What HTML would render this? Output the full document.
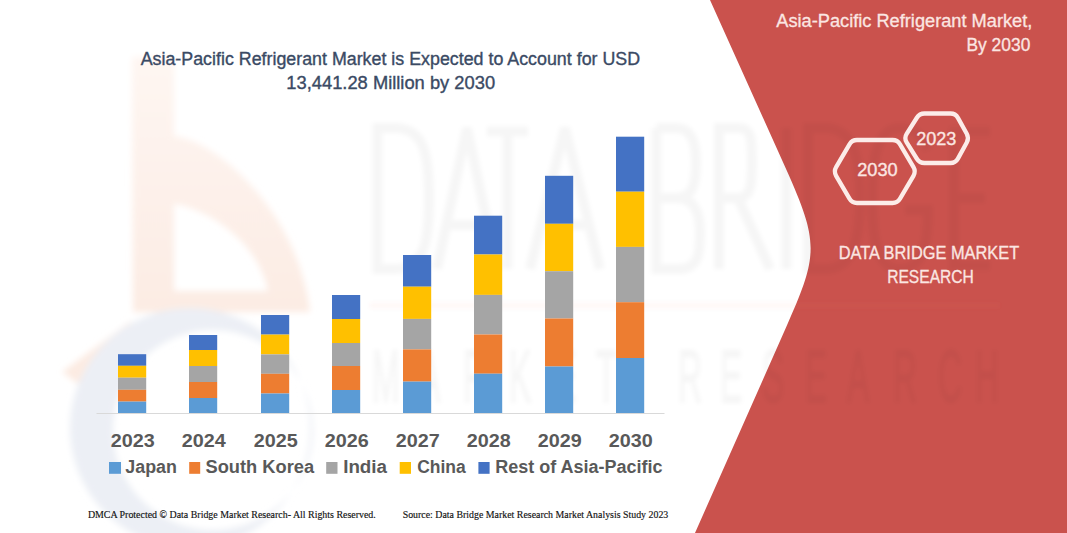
<!DOCTYPE html>
<html><head><meta charset="utf-8">
<style>
html,body{margin:0;padding:0;background:#fff;}
body{width:1067px;height:533px;overflow:hidden;position:relative;}
svg{position:absolute;left:0;top:0;}
text{font-family:"Liberation Sans",sans-serif;}
</style></head><body>
<svg width="1067" height="533" viewBox="0 0 1067 533">
<defs><linearGradient id="pg" x1="0" y1="57" x2="0" y2="330" gradientUnits="userSpaceOnUse"><stop offset="0" stop-color="#FEF6F2"/><stop offset="1" stop-color="#FCEBE2"/></linearGradient><filter id="bl" x="-10%" y="-10%" width="120%" height="120%"><feGaussianBlur stdDeviation="3"/></filter><filter id="bl2" x="-10%" y="-10%" width="120%" height="120%"><feGaussianBlur stdDeviation="2"/></filter></defs>
<rect width="1067" height="533" fill="#fff"/>
<g filter="url(#bl)">
<!-- watermark logo -->
<g fill="url(#pg)">
<path d="M132,57 H174 V136 C215,140 298,210 310,312 H133 Z M174,204 V291 H268 C258,240 205,208 174,204 Z" fill-rule="evenodd"/>
<path d="M62,372 L130,322 L150,338 L80,385 Z"/>
</g>
<path d="M190,308 A120,120 0 1,0 190.1,308 Z M213,330 A100,100 0 1,1 212.9,330 Z" fill="#ECEFF5" fill-rule="evenodd"/>
</g>
<!-- red panel -->
<path d="M710,0 L786.5,170 C818.5,241.4 818.6,254.5 787.1,325 L695,533 L1067,533 L1067,0 Z" fill="#CA524D"/>
<!-- watermark text -->
<g filter="url(#bl2)">
<g fill="none" stroke="rgba(0,0,0,0.035)" stroke-width="10">
<path d="M377.5,128 V269 H395 C425,269 429,240 429,198.5 C429,157 425,128 395,128 Z"/>
<path d="M437,269 L467,128 L497,269 M447,225 H487"/>
<path d="M487,131.5 H528 M507.5,128 V269"/>
<path d="M530,269 L565,128 L600,269 M540,225 H590"/>
<path d="M656.5,128 V269 H678 C698,269 700,255 700,233 C700,212 694,198 676,198 H656.5 M676,198 C692,198 696,185 696,163 C696,140 690,128 676,128 H656.5"/>
<path d="M719,269 V128 H738 C752,128 752,140 752,163 C752,186 750,198 738,198 H719 M738,198 L770,269"/>
<path d="M786.5,128 V269"/>
<path d="M808,128 V269 H825 C853,269 860,240 860,198 C860,157 853,128 825,128 Z"/>
<path d="M928,150 C922,133 912,128 900,128 C880,128 872,150 872,198 C872,248 880,269 900,269 C918,269 928,255 928,210 H905"/>
<path d="M990,131.5 H954 V265.5 H990 M954,198 H985"/>
</g>
<line x1="370" y1="305.5" x2="1000" y2="305.5" stroke="rgba(240,120,80,0.07)" stroke-width="4"/>
<text x="826.7 928.9 1028.9 1131.1 1231.1 1324.4 1506.7 1600.0 1693.3 1788.9 1882.2 1984.4 2084.4 2166.7" y="402" font-size="74" fill="rgba(0,0,0,0.032)" stroke="rgba(0,0,0,0.032)" stroke-width="2" transform="scale(0.45,1)" style="font-family:'Liberation Sans',sans-serif">MARKETRESEARCH</text>
</g>
<!-- axis -->
<line x1="96.5" y1="413.5" x2="664.5" y2="413.5" stroke="#D9D9D9" stroke-width="1"/>
<rect x="118" y="354.2" width="28.2" height="11.60" fill="#4472C4"/>
<rect x="118" y="365.8" width="28.2" height="11.90" fill="#FFC000"/>
<rect x="118" y="377.7" width="28.2" height="12.10" fill="#A5A5A5"/>
<rect x="118" y="389.8" width="28.2" height="11.80" fill="#ED7D31"/>
<rect x="118" y="401.6" width="28.2" height="11.40" fill="#5B9BD5"/>
<rect x="189" y="335" width="28.2" height="15.00" fill="#4472C4"/>
<rect x="189" y="350" width="28.2" height="16.00" fill="#FFC000"/>
<rect x="189" y="366" width="28.2" height="16.00" fill="#A5A5A5"/>
<rect x="189" y="382" width="28.2" height="16.00" fill="#ED7D31"/>
<rect x="189" y="398" width="28.2" height="15.00" fill="#5B9BD5"/>
<rect x="261" y="315" width="28.2" height="19.60" fill="#4472C4"/>
<rect x="261" y="334.6" width="28.2" height="19.80" fill="#FFC000"/>
<rect x="261" y="354.4" width="28.2" height="19.40" fill="#A5A5A5"/>
<rect x="261" y="373.8" width="28.2" height="19.70" fill="#ED7D31"/>
<rect x="261" y="393.5" width="28.2" height="19.50" fill="#5B9BD5"/>
<rect x="332" y="295" width="28.2" height="24.00" fill="#4472C4"/>
<rect x="332" y="319" width="28.2" height="24.00" fill="#FFC000"/>
<rect x="332" y="343" width="28.2" height="23.00" fill="#A5A5A5"/>
<rect x="332" y="366" width="28.2" height="24.00" fill="#ED7D31"/>
<rect x="332" y="390" width="28.2" height="23.00" fill="#5B9BD5"/>
<rect x="403" y="255" width="28.2" height="31.70" fill="#4472C4"/>
<rect x="403" y="286.7" width="28.2" height="32.20" fill="#FFC000"/>
<rect x="403" y="318.9" width="28.2" height="30.50" fill="#A5A5A5"/>
<rect x="403" y="349.4" width="28.2" height="32.20" fill="#ED7D31"/>
<rect x="403" y="381.6" width="28.2" height="31.40" fill="#5B9BD5"/>
<rect x="474" y="215.7" width="28.2" height="38.80" fill="#4472C4"/>
<rect x="474" y="254.5" width="28.2" height="40.40" fill="#FFC000"/>
<rect x="474" y="294.9" width="28.2" height="39.60" fill="#A5A5A5"/>
<rect x="474" y="334.5" width="28.2" height="39.20" fill="#ED7D31"/>
<rect x="474" y="373.7" width="28.2" height="39.30" fill="#5B9BD5"/>
<rect x="545" y="175.8" width="28.2" height="48.00" fill="#4472C4"/>
<rect x="545" y="223.8" width="28.2" height="47.40" fill="#FFC000"/>
<rect x="545" y="271.2" width="28.2" height="47.30" fill="#A5A5A5"/>
<rect x="545" y="318.5" width="28.2" height="48.00" fill="#ED7D31"/>
<rect x="545" y="366.5" width="28.2" height="46.50" fill="#5B9BD5"/>
<rect x="616" y="136.7" width="28.2" height="55.00" fill="#4472C4"/>
<rect x="616" y="191.7" width="28.2" height="55.20" fill="#FFC000"/>
<rect x="616" y="246.9" width="28.2" height="55.30" fill="#A5A5A5"/>
<rect x="616" y="302.2" width="28.2" height="55.80" fill="#ED7D31"/>
<rect x="616" y="358" width="28.2" height="55.00" fill="#5B9BD5"/>
<!-- title -->
<g fill="#3A4A64" font-size="17.5" stroke="#3A4A64" stroke-width="0.35">
<text x="140.7" y="64.7" textLength="499.4" lengthAdjust="spacingAndGlyphs">Asia-Pacific Refrigerant Market is Expected to Account for USD</text>
<text x="286.3" y="88.6" textLength="208.8" lengthAdjust="spacingAndGlyphs">13,441.28 Million by 2030</text>
</g>
<g fill="#595959" font-size="17.5" font-weight="bold">
<text x="132.8" y="447" text-anchor="middle" textLength="44" lengthAdjust="spacingAndGlyphs">2023</text>
<text x="203.8" y="447" text-anchor="middle" textLength="44" lengthAdjust="spacingAndGlyphs">2024</text>
<text x="275.8" y="447" text-anchor="middle" textLength="44" lengthAdjust="spacingAndGlyphs">2025</text>
<text x="346.8" y="447" text-anchor="middle" textLength="44" lengthAdjust="spacingAndGlyphs">2026</text>
<text x="417.8" y="447" text-anchor="middle" textLength="44" lengthAdjust="spacingAndGlyphs">2027</text>
<text x="488.8" y="447" text-anchor="middle" textLength="44" lengthAdjust="spacingAndGlyphs">2028</text>
<text x="559.8" y="447" text-anchor="middle" textLength="44" lengthAdjust="spacingAndGlyphs">2029</text>
<text x="630.8" y="447" text-anchor="middle" textLength="44" lengthAdjust="spacingAndGlyphs">2030</text>
</g>
<!-- legend -->
<g>
<rect x="109" y="462" width="12" height="11.8" fill="#5B9BD5"/>
<rect x="189.2" y="462" width="11" height="11.8" fill="#ED7D31"/>
<rect x="326.2" y="462" width="11.3" height="11.8" fill="#A5A5A5"/>
<rect x="399.7" y="462" width="11.3" height="11.8" fill="#FFC000"/>
<rect x="478.4" y="462" width="11.2" height="11.8" fill="#4472C4"/>
</g>
<g fill="#595959" font-size="17.5" font-weight="bold">
<text x="125.3" y="472.7" textLength="51.6" lengthAdjust="spacingAndGlyphs">Japan</text>
<text x="205.5" y="472.7" textLength="108.6" lengthAdjust="spacingAndGlyphs">South Korea</text>
<text x="343.2" y="472.7" textLength="43.8" lengthAdjust="spacingAndGlyphs">India</text>
<text x="417.2" y="472.7" textLength="48.6" lengthAdjust="spacingAndGlyphs">China</text>
<text x="495.2" y="472.7" textLength="167.3" lengthAdjust="spacingAndGlyphs">Rest of Asia-Pacific</text>
</g>
<!-- footer -->
<g fill="#111" font-size="10.5" stroke="#111" stroke-width="0.15">
<text x="87.9" y="518" textLength="287.9" lengthAdjust="spacingAndGlyphs" style="font-family:'Liberation Serif',serif">DMCA Protected © Data Bridge Market Research-  All Rights Reserved.</text>
<text x="402.7" y="518" textLength="265.6" lengthAdjust="spacingAndGlyphs" style="font-family:'Liberation Serif',serif">Source: Data Bridge Market Research  Market Analysis Study 2023</text>
</g>
<!-- red panel text -->
<g fill="#FBE6E2" font-size="17.5" stroke="#FBE6E2" stroke-width="0.3">
<text x="776.3" y="27.3" textLength="256" lengthAdjust="spacingAndGlyphs">Asia-Pacific Refrigerant Market,</text>
<text x="966.5" y="50.8" textLength="63.8" lengthAdjust="spacingAndGlyphs">By 2030</text>
</g>
<g fill="none" stroke="#FCECE9" stroke-width="4.3">
<path d="M836.12,175.82 Q833.60,171.50 836.12,167.18 L849.48,144.32 Q852.00,140.00 857.00,140.00 L892.50,140.00 Q897.50,140.00 900.03,144.31 L913.47,167.19 Q916.00,171.50 913.47,175.81 L900.03,198.69 Q897.50,203.00 892.50,203.00 L857.00,203.00 Q852.00,203.00 849.48,198.68 Z"/>
<path d="M906.65,142.44 Q904.00,138.20 906.66,133.96 L916.84,117.74 Q919.50,113.50 924.50,113.50 L950.50,113.50 Q955.50,113.50 957.93,117.87 L966.77,133.83 Q969.20,138.20 966.78,142.58 L957.92,158.62 Q955.50,163.00 950.50,163.00 L924.50,163.00 Q919.50,163.00 916.85,158.76 Z"/>
</g>
<g fill="#FBE6E2" font-size="17.8" stroke="#FBE6E2" stroke-width="0.35">
<text x="877.5" y="175.6" text-anchor="middle" textLength="40.5" lengthAdjust="spacingAndGlyphs">2030</text>
<text x="936.3" y="145.2" text-anchor="middle" textLength="40.2" lengthAdjust="spacingAndGlyphs">2023</text>
</g>
<g fill="#FBE6E2" font-size="17.5" stroke="#FBE6E2" stroke-width="0.3">
<text x="838.7" y="258.9" textLength="180.5" lengthAdjust="spacingAndGlyphs">DATA BRIDGE MARKET</text>
<text x="887.2" y="282.6" textLength="86.6" lengthAdjust="spacingAndGlyphs">RESEARCH</text>
</g>
</svg>
</body></html>
